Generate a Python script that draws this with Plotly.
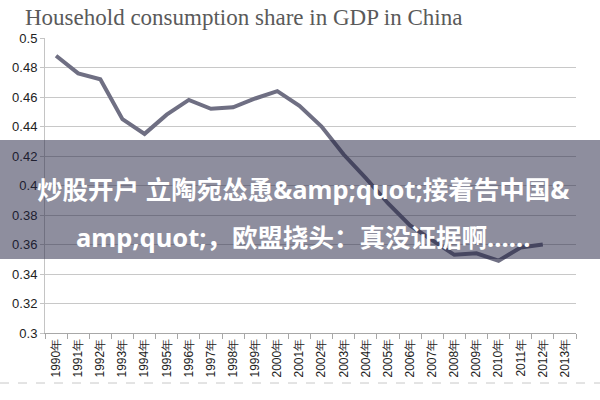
import plotly.graph_objects as go

years = [f"{y}年" for y in range(1990, 2014)]
share = [0.488, 0.476, 0.472, 0.445, 0.435, 0.448, 0.458, 0.452, 0.453, 0.459,
         0.464, 0.454, 0.440, 0.421, 0.405, 0.388, 0.373, 0.363, 0.353, 0.354,
         0.349, 0.358, 0.360, None]
y_ticks = [0.3, 0.32, 0.34, 0.36, 0.38, 0.4, 0.42, 0.44, 0.46, 0.48, 0.5]
y_labels = ["0.3", "0.32", "0.34", "0.36", "0.38", "0.4", "0.42", "0.44", "0.46", "0.48", "0.5"]
title_text = "Household consumption share in GDP in China"
overlay_line1 = "炒股开户 立陶宛怂恿&amp;amp;quot;接着告中国&amp;"
overlay_line2 = "amp;quot;，欧盟挠头：真没证据啊……"

W, H = 600, 400
L, R, T, B = 45, 24, 38, 67
pw, ph = W - L - R, H - T - B

def px(x):
    return (x - L) / pw

def py(y):
    return (H - B - y) / ph

fig = go.Figure()
fig.add_trace(go.Scatter(
    x=years, y=share, mode="lines",
    line=dict(color="#6f6f83", width=4),
    connectgaps=False, hoverinfo="skip"))

fig.update_layout(
    width=W, height=H,
    margin=dict(l=L, r=R, t=T, b=B),
    paper_bgcolor="white", plot_bgcolor="white",
    showlegend=False,
    title=dict(text=title_text, x=25 / W, xanchor="left", xref="container",
               y=1 - 17 / H, yanchor="middle", yref="container",
               font=dict(family="Liberation Serif", size=23, color="#5a5a5a")),
    xaxis=dict(type="category", range=[-0.5, 23.5], tickangle=-90,
               tickson="boundaries", ticks="outside", ticklen=5, tickcolor="#a8a8a8",
               showline=True, linecolor="#a8a8a8", linewidth=1, showgrid=False,
               tickfont=dict(family="Liberation Sans", size=12, color="#222222")),
    yaxis=dict(range=[0.3, 0.5], tickvals=y_ticks, ticktext=y_labels,
               ticks="outside", ticklen=4, tickcolor="#c4c4c4",
               showline=True, linecolor="#c4c4c4", linewidth=1,
               showgrid=True, gridcolor="#c8c8c8", gridwidth=1, zeroline=False,
               tickfont=dict(family="Liberation Sans", size=13, color="#222222")),
)

# dark overlay band
fig.add_shape(type="rect", xref="paper", yref="paper",
              x0=px(0), x1=px(W), y0=py(259), y1=py(140),
              fillcolor="rgba(30,30,62,0.5)", line=dict(width=0), layer="above")
# dashed separator
fig.add_shape(type="line", xref="paper", yref="paper",
              x0=px(0), x1=px(W), y0=py(383), y1=py(383),
              line=dict(color="#c8c8c8", width=1, dash="dash"), layer="above")

for txt, yc in [(overlay_line1, 189), (overlay_line2, 237)]:
    fig.add_annotation(text=f"<b>{txt}</b>", xref="paper", yref="paper",
                       x=px(303), y=py(yc), xanchor="center", yanchor="middle",
                       showarrow=False,
                       font=dict(family="Noto Sans, Noto Sans CJK SC", size=25.5, color="white"))

fig.write_html("out.html", config={"displayModeBar": False},
               post_script="document.body.style.margin='0';document.body.style.overflow='hidden';")
